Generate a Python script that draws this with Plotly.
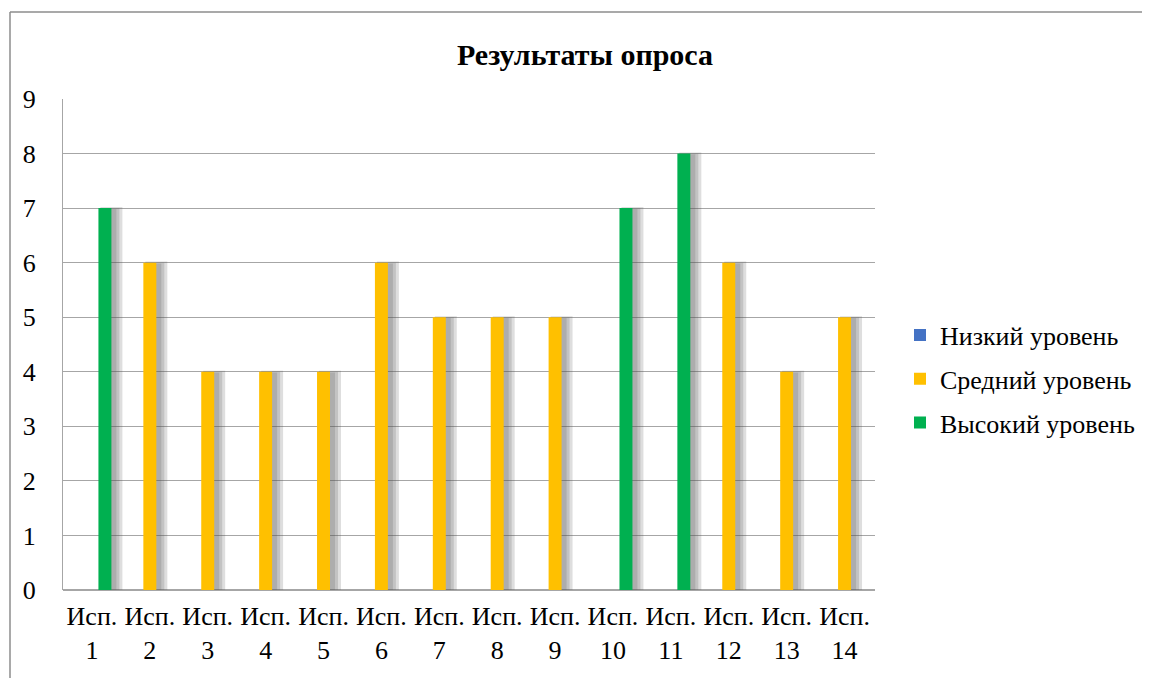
import plotly.graph_objects as go

categories = [f"Исп.<br>{i}" for i in range(1, 15)]
series_names = ["Низкий уровень", "Средний уровень", "Высокий уровень"]
low = [None] * 14
mid = [None, 6, 4, 4, 4, 6, 5, 5, 5, None, None, 6, 4, 5]
high = [7, None, None, None, None, None, None, None, None, 7, 8, None, None, None]
colors = ["#4472C4", "#FFC000", "#00B050"]
yticks = list(range(0, 10))

# page body has an 8px margin, so the figure is sized/positioned to compensate
W, H = 1142, 670
L, R, T, B = 55, 275, 91, 88
plot_w = W - L - R
plot_h = H - T - B
px = 14 / plot_w  # category units per pixel
bar_w = 13 * px
offsets = [-1.5 * bar_w, -0.5 * bar_w, 0.5 * bar_w]
FONT = "Liberation Serif"

fig = go.Figure()

# soft shadows behind bars
for vals, off in zip([low, mid, high], offsets):
    for k, (dw, dh) in enumerate([(3, 0.03), (6, 0.06), (9, 0.1)]):
        sv = [None if v is None else v + dh for v in vals]
        fig.add_trace(go.Bar(
            x=categories, y=sv, base=-0.03 - dh / 2,
            offset=off + 2 * px, width=bar_w + dw * px,
            marker=dict(color="rgba(80,80,80,0.19)", line=dict(width=0)),
            showlegend=False, hoverinfo="skip"))

for i, (name, vals, col, off) in enumerate(zip(series_names, [low, mid, high], colors, offsets)):
    fig.add_trace(go.Bar(
        x=categories, y=vals, name=name, offset=off, width=bar_w,
        marker=dict(color=col, line=dict(width=0)), legendgroup=name))

fig.update_layout(
    width=W, height=H,
    margin=dict(l=L, r=R, t=T, b=B, autoexpand=False),
    paper_bgcolor="white", plot_bgcolor="white",
    barmode="overlay",
    font=dict(family=FONT, size=26, color="#000"),
    title=dict(text="<b>Результаты опроса</b>", x=(585 - 8) / W, xanchor="center",
               y=1 - 46 / H, yanchor="middle", font=dict(family=FONT, size=30)),
    xaxis=dict(type="category", showgrid=False, showline=False, ticks="",
               ticklabelstandoff=8, tickfont=dict(family=FONT, size=26)),
    yaxis=dict(range=[0, 9], tickvals=yticks, showgrid=True, gridcolor="#a6a6a6",
               gridwidth=1, showline=True, linecolor="#a6a6a6", zeroline=True,
               zerolinecolor="#a6a6a6", ticks="", ticklabelstandoff=21,
               tickfont=dict(family=FONT, size=26)),
    legend=dict(x=(892 - L) / plot_w, y=(H - B - 371) / plot_h, xanchor="left", yanchor="middle",
                traceorder="grouped", tracegroupgap=7,
                font=dict(family=FONT, size=26),
                itemwidth=30, bgcolor="rgba(0,0,0,0)"),
    showlegend=True,
)

# outer chart frame (top and left edges visible)
fx = (2 - L) / plot_w
fy = (H - B - 4) / plot_h
fig.add_shape(type="line", xref="paper", yref="paper",
              x0=fx, x1=(W - L) / plot_w, y0=fy, y1=fy,
              line=dict(color="#8c8c8c", width=1.5))
fig.add_shape(type="line", xref="paper", yref="paper",
              x0=fx, x1=fx, y0=-B / plot_h, y1=fy,
              line=dict(color="#8c8c8c", width=1.5))

fig.write_html("out.html")
